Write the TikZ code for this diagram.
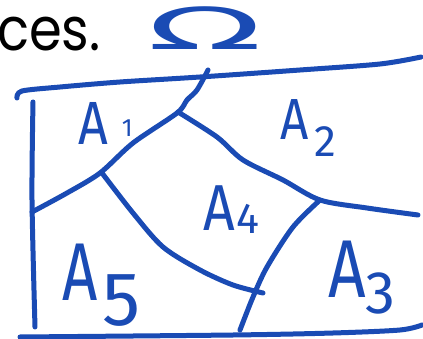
\documentclass[tikz,border=0pt]{standalone}
\usepackage{fontspec}
\setmainfont{Fira Sans}
\newfontfamily\cesfont{Poppins}
\newfontfamily\omfont{DejaVu Sans}
\definecolor{ink}{RGB}{26,75,180}
\newcommand\narrowA[1]{\scalebox{#1}[1]{A}}
\begin{document}
\begin{tikzpicture}[x=1pt,y=-1pt,
  stroke/.style={draw=ink,line width=5pt,line cap=round,line join=round},
  lab/.style={text=ink,inner sep=0pt,anchor=base west}]
\useasboundingbox (0,0) rectangle (423,339);
\fill[white] (0,0) rectangle (423,339);
% heading fragment
\node[inner sep=0pt,anchor=base west,xscale=0.88,font=\cesfont\fontsize{60}{60}\selectfont] (ces) at (-3,51) {ces.};
% Omega
\node[text=ink,inner sep=0pt,anchor=base,xscale=2.6,font=\omfont\fontsize{58}{58}\selectfont] (omega) at (205,50) {Ω};
% frame
\draw[stroke] plot[smooth] coordinates {(17,98) (22,91) (60,87) (120,82) (200,77) (300,70) (380,64) (421,57)};
\draw[stroke] plot[smooth] coordinates {(33,102) (32,200) (35,327)};
\draw[stroke] plot[smooth] coordinates {(20,337) (233,335) (333,333) (400,330) (422,325)};
% partitions
\draw[stroke] plot[smooth] coordinates {(208,70) (197,90) (187,100) (177,113) (133,143) (100,173) (67,193) (32,212)};
\draw[stroke] plot[smooth] coordinates {(178,112) (217,137) (243,160) (283,180) (320,200) (367,208) (418,215)};
\draw[stroke] plot[smooth] coordinates {(102,173) (133,213) (163,247) (200,270) (233,285) (263,293)};
\draw[stroke] plot[smooth] coordinates {(320,200) (293,227) (267,267) (253,297) (240,330)};
% labels
\node[lab,font=\fontsize{61}{61}\selectfont] (a1) at (78,145) {\narrowA{0.85}\kern14pt\raisebox{8pt}{\fontsize{25}{25}\selectfont 1}};
\node[lab,font=\fontsize{58}{58}\selectfont] (a2) at (280,140) {\narrowA{0.85}\kern6pt\raisebox{-17pt}{\fontsize{44}{44}\selectfont 2}};
\node[lab,font=\fontsize{65}{65}\selectfont] (a4) at (203,230) {\narrowA{0.85}\kern2pt\raisebox{-3pt}{\fontsize{43}{43}\selectfont 4}};
\node[lab,font=\fontsize{82}{82}\selectfont] (a5) at (62,300) {\narrowA{0.75}\kern5pt\raisebox{-25pt}{\fontsize{76}{76}\selectfont 5}};
\node[lab,font=\fontsize{82}{82}\selectfont] (a3) at (328,297) {\narrowA{0.8}\kern0pt\raisebox{-16pt}{\fontsize{60}{60}\selectfont 3}};
\end{tikzpicture}
\end{document}
